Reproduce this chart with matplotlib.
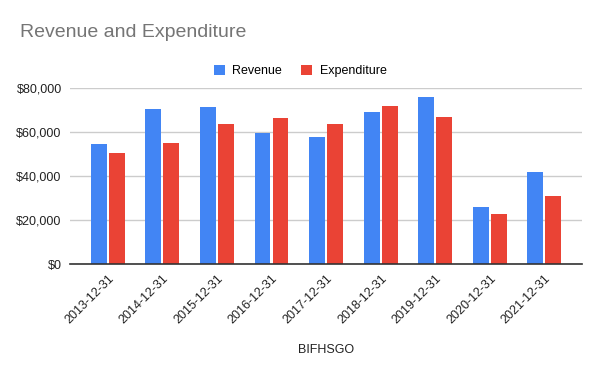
import matplotlib.pyplot as plt
import numpy as np
from matplotlib.ticker import FuncFormatter

plt.rcParams['font.family'] = ['Liberation Sans', 'DejaVu Sans']

# Data
years = ["2013-12-31", "2014-12-31", "2015-12-31", "2016-12-31", "2017-12-31",
         "2018-12-31", "2019-12-31", "2020-12-31", "2021-12-31"]
revenue = [54500, 70500, 71400, 59500, 57700, 69100, 75900, 25900, 41800]
expenditure = [50500, 55000, 63600, 66400, 63600, 71800, 66800, 22700, 30900]

blue = "#4285f4"
red = "#ea4335"

fig = plt.figure(figsize=(6, 3.71), dpi=100)
ax = fig.add_axes([0.1167, 0.2884, 0.8533, 0.4744])

x = np.arange(len(years))
w = 0.29
ax.bar(x - 0.165, revenue, width=w, color=blue, label="Revenue")
ax.bar(x + 0.165, expenditure, width=w, color=red, label="Expenditure")

ax.set_xlim(-0.69, len(years) - 1 + 0.69)
ax.set_ylim(0, 80000)
ax.set_yticks([0, 20000, 40000, 60000, 80000])
ax.yaxis.set_major_formatter(FuncFormatter(lambda v, p: "${:,.0f}".format(v)))
ax.grid(axis="y", color="#cccccc", linewidth=1)
ax.set_axisbelow(True)

for s in ["top", "right", "left"]:
    ax.spines[s].set_visible(False)
ax.spines["bottom"].set_color("#333333")
ax.spines["bottom"].set_linewidth(1.2)

ax.set_xticks(x)
ax.set_xticklabels(years, rotation=45, ha="right", rotation_mode="anchor")
ax.tick_params(axis="both", length=0, labelsize=9, labelcolor="#222222")
ax.tick_params(axis="x", pad=6)
ax.tick_params(axis="y", pad=6)

ax.set_xlabel("BIFHSGO", fontsize=9, color="#222222")
ax.xaxis.set_label_coords(0.5, -0.455)

fig.text(0.033, 0.913, "Revenue and Expenditure", fontsize=14, color="#757575",
         va="center", ha="left")

fig.legend(loc="center", bbox_to_anchor=(0.5, 0.809), ncol=2, frameon=False,
           fontsize=9, handlelength=0.9, handleheight=0.9, columnspacing=1.5,
           handletextpad=0.6)

fig.savefig("out.png", dpi=100)
